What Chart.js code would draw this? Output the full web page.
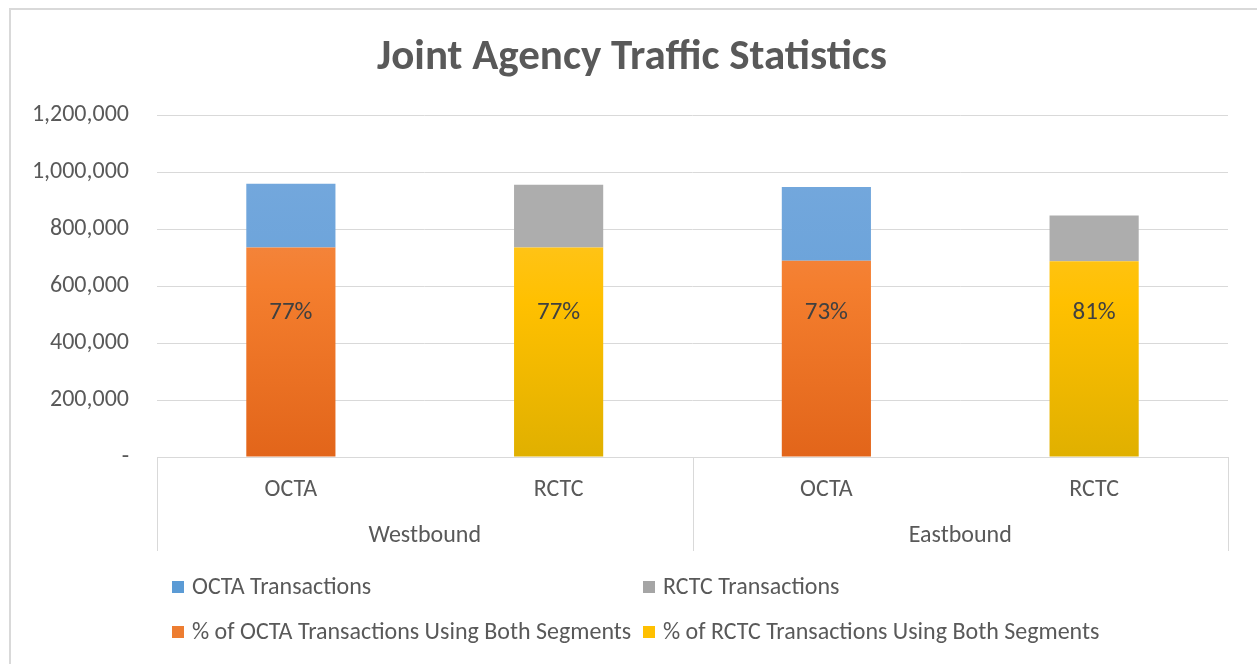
<!DOCTYPE html>
<html>
<head>
<meta charset="utf-8">
<script src="https://cdn.jsdelivr.net/npm/chart.js@4.4.1/dist/chart.umd.min.js"></script>
<style>
  html, body { margin: 0; padding: 0; background: #fff; }
  #wrap { width: 1257px; height: 664px; position: relative; }
</style>
</head>
<body>
<div id="wrap"><canvas id="trafficChart"></canvas></div>
<script>
// data
const agencies = ["OCTA", "RCTC", "OCTA", "RCTC"];
const directions = ["Westbound", "Eastbound"];
const totalTransactions = [959000, 955000, 947000, 847000];
const bothSegments = [735000, 735000, 689000, 687000];
const pctLabels = ["77%", "77%", "73%", "81%"];
const yTicks = [0, 200000, 400000, 600000, 800000, 1000000, 1200000];
const chartTitle = "Joint Agency Traffic Statistics";

const isOcta = agencies.map(a => a === "OCTA");
const restOf = totalTransactions.map((t, i) => t - bothSegments[i]);

const textColor = "#595959";
const gridColor = "#d9d9d9";
const FONT = "Carlito, 'Liberation Sans', 'Open Sans', sans-serif";

function vGradient(stops) {
  return (c) => {
    const area = c.chart.chartArea;
    if (!area) return stops[0][1];
    const g = c.chart.ctx.createLinearGradient(0, area.top, 0, area.bottom);
    stops.forEach(s => g.addColorStop(s[0], s[1]));
    return g;
  };
}

const orange = vGradient([[0, "#f39560"], [0.5, "#f47e2e"], [1, "#e2651a"]]);
const yellow = vGradient([[0, "#ffcb48"], [0.55, "#ffc000"], [1, "#e0b000"]]);
const blue = vGradient([[0, "#78aade"], [1, "#5e9cd6"]]);
const gray = "#adadad";

const extras = {
  id: "extras",
  afterDraw(chart) {
    const ctx = chart.ctx;
    const area = chart.chartArea;
    const x = chart.scales.x;
    const y = chart.scales.y;
    ctx.save();

    // chart border (top + left visible)
    ctx.strokeStyle = gridColor;
    ctx.lineWidth = 2;
    ctx.beginPath();
    ctx.moveTo(10, chart.height);
    ctx.lineTo(10, 9);
    ctx.lineTo(chart.width, 9);
    ctx.stroke();

    // title
    ctx.fillStyle = textColor;
    ctx.font = "bold 43px " + FONT;
    ctx.textAlign = "center";
    ctx.textBaseline = "middle";
    ctx.fillText(chartTitle, 632, 58);

    // group boxes for the two-level axis
    ctx.lineWidth = 1;
    const boxBottom = area.bottom + 94;
    const mid = (x.getPixelForValue(1) + x.getPixelForValue(2)) / 2;
    [area.left, mid, area.right].forEach(px => {
      ctx.beginPath();
      ctx.moveTo(Math.round(px) + 0.5, area.bottom);
      ctx.lineTo(Math.round(px) + 0.5, boxBottom);
      ctx.stroke();
    });

    ctx.font = "24px " + FONT;
    directions.forEach((d, i) => {
      const cx = (x.getPixelForValue(i * 2) + x.getPixelForValue(i * 2 + 1)) / 2;
      ctx.fillText(d, cx, area.bottom + 79);
    });

    // percentage labels inside the lower segments
    ctx.fillStyle = "#404040";
    ctx.font = "25px " + FONT;
    const labelY = y.getPixelForValue(505000);
    pctLabels.forEach((t, i) => {
      ctx.fillText(t, x.getPixelForValue(i), labelY);
    });

    // legend in two columns
    ctx.font = "24px " + FONT;
    ctx.textAlign = "left";
    chart.data.datasets.forEach((ds, k) => {
      const col = k % 2;
      const row = Math.floor(k / 2);
      const bx = area.left + 15 + col * 471;
      const by = area.bottom + 130 + row * 45;
      ctx.fillStyle = ds.legendColor;
      ctx.fillRect(bx, by - 6, 12, 12);
      ctx.fillStyle = textColor;
      ctx.fillText(ds.label, bx + 20, by + 1);
    });

    ctx.restore();
  }
};

new Chart(document.getElementById("trafficChart"), {
  type: "bar",
  data: {
    labels: agencies,
    datasets: [
      {
        label: "OCTA Transactions",
        data: restOf.map((v, i) => isOcta[i] ? v : null),
        backgroundColor: blue,
        legendColor: "#5b9bd5",
        stack: "s", order: 2
      },
      {
        label: "RCTC Transactions",
        data: restOf.map((v, i) => isOcta[i] ? null : v),
        backgroundColor: gray,
        legendColor: "#a5a5a5",
        stack: "s", order: 2
      },
      {
        label: "% of OCTA Transactions Using Both Segments",
        data: bothSegments.map((v, i) => isOcta[i] ? v : null),
        backgroundColor: orange,
        legendColor: "#ed7d31",
        stack: "s", order: 1
      },
      {
        label: "% of RCTC Transactions Using Both Segments",
        data: bothSegments.map((v, i) => isOcta[i] ? null : v),
        backgroundColor: yellow,
        legendColor: "#ffc000",
        stack: "s", order: 1
      }
    ]
  },
  options: {
    responsive: true,
    maintainAspectRatio: false,
    animation: false,
    layout: { padding: { top: 115, left: 0, right: 29, bottom: 0 } },
    datasets: { bar: { categoryPercentage: 1, barPercentage: 0.333 } },
    plugins: {
      legend: { display: false },
      tooltip: { enabled: false }
    },
    scales: {
      x: {
        stacked: true,
        grid: { display: true, drawOnChartArea: false, drawTicks: false, color: gridColor },
        border: { color: gridColor },
        ticks: { color: textColor, font: { family: FONT, size: 24, lineHeight: 1.2 }, padding: 19 },
        afterFit(s) { s.height = 664 - 457; }
      },
      y: {
        stacked: true,
        min: 0,
        max: 1200000,
        afterBuildTicks(s) { s.ticks = yTicks.map(v => ({ value: v })); },
        grid: { color: gridColor, drawTicks: false },
        border: { display: false },
        ticks: {
          color: textColor,
          font: { family: FONT, size: 24 },
          padding: 28,
          callback: v => v === 0 ? "-" : v.toLocaleString("en-US")
        },
        afterFit(s) { s.width = 157; }
      }
    }
  },
  plugins: [extras]
});
</script>
</body>
</html>
